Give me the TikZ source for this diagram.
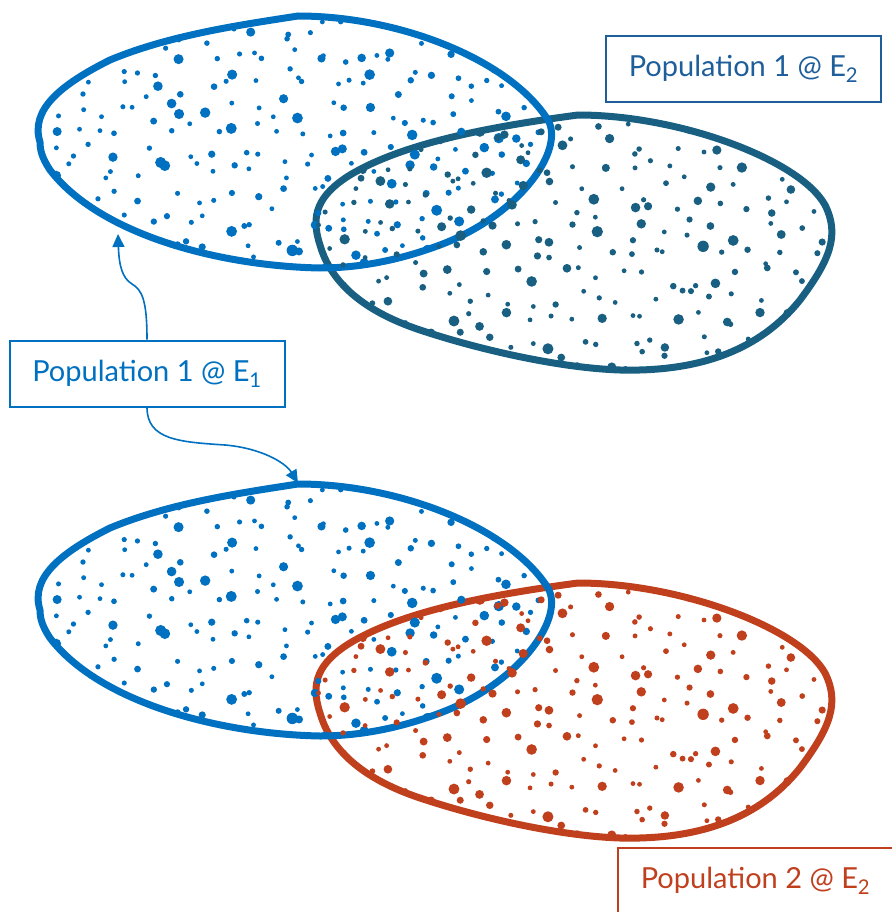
\documentclass[tikz,border=0pt]{standalone}
\usepackage{fontspec}
\setmainfont{Lato}
\usepackage{tikz}
\usetikzlibrary{arrows.meta, positioning}
\definecolor{popBlue}{RGB}{0,112,192}
\definecolor{envTeal}{RGB}{24,95,130}
\definecolor{popRed}{RGB}{192,64,30}
\definecolor{labelBlue}{RGB}{30,95,155}
% outlines of the two blobs (upper panel, y axis points down)
\newcommand{\blobOnePath}{(298,16) .. controls (400,16) and (510,60) .. (548,120)
  .. controls (565,150) and (520,215) .. (440,245)
  .. controls (400,260) and (360,268) .. (320,268)
  .. controls (220,266) and (100,235) .. (50,170)
  .. controls (42,158) and (40,150) .. (40,142)
  .. controls (30,110) and (60,85) .. (110,60)
  .. controls (170,35) and (240,25) .. (298,16) -- cycle}
\newcommand{\blobTwoPath}{(578,115) .. controls (680,115) and (800,160) .. (825,205)
  .. controls (840,235) and (830,260) .. (800,300)
  .. controls (760,350) and (700,372) .. (620,370)
  .. controls (560,368) and (480,350) .. (420,330)
  .. controls (360,310) and (330,280) .. (320,245)
  .. controls (310,215) and (318,195) .. (350,175)
  .. controls (400,145) and (480,128) .. (578,115) -- cycle}

\begin{document}
\begin{tikzpicture}[x=1pt, y=-1pt,
  popbox/.style={draw, line width=2pt, minimum width=275pt, minimum height=66pt,
    font=\fontsize{29}{32}\selectfont},
  blobline/.style={line width=7pt, line join=round},
  flow/.style={popBlue, line width=1.6pt, -{Triangle[length=13pt,width=12pt]}}]
  \useasboundingbox (0,0) rectangle (891,912);
  % two panels: population 1 with E2 (teal), then population 1 with population 2 (red)
  \foreach \yoff/\envcol in {0/envTeal, 468/popRed}{
    \begin{scope}[shift={(0,\yoff)}]
      \draw[blobline, \envcol] \blobTwoPath;
      \draw[blobline, popBlue] \blobOnePath;
      % dots of population 1 (jittered grid)
      \begin{scope}
        \clip \blobOnePath;
        \pgfmathsetseed{31}
        \foreach \gx in {0,...,22}{
          \foreach \gy in {0,...,11}{
            \pgfmathsetmacro\dx{40+23*\gx+23*rnd}
            \pgfmathsetmacro\dy{16+21*\gy+21*rnd}
            \pgfmathsetmacro\dr{2.4+3.4*rnd^3}
            \fill[popBlue] (\dx,\dy) circle[radius=\dr];
          }
        }
      \end{scope}
      % dots of the second blob
      \begin{scope}
        \clip \blobTwoPath;
        \pgfmathsetseed{7}
        \foreach \gx in {0,...,22}{
          \foreach \gy in {0,...,11}{
            \pgfmathsetmacro\dx{316+23*\gx+23*rnd}
            \pgfmathsetmacro\dy{115+21.5*\gy+21.5*rnd}
            \pgfmathsetmacro\dr{2.4+3.4*rnd^3}
            \fill[\envcol] (\dx,\dy) circle[radius=\dr];
          }
        }
      \end{scope}
    \end{scope}
  }
  % labels
  \node[popbox, labelBlue] (popOneEnvTwo) at (743.5,69) {Population 1 @ E\textsubscript{2}};
  \node[popbox, popBlue] (popOneEnvOne) at (147,373.5) {Population 1 @ E\textsubscript{1}};
  \node[popbox, popRed] (popTwoEnvTwo) at (755.5,881) {Population 2 @ E\textsubscript{2}};
  % arrow ends on the blue blobs
  \coordinate (blobOneLow) at (118,234);
  \coordinate (blobOneTop) at (298,483);
  \draw[flow] (popOneEnvOne.north) .. controls (147,300) and (142,290) .. (132,284)
    .. controls (122,278) and (119,265) .. (blobOneLow);
  \draw[flow] (popOneEnvOne.south) .. controls (147,440) and (180,442) .. (225,445)
    .. controls (260,448) and (285,462) .. (blobOneTop);
\end{tikzpicture}
\end{document}
